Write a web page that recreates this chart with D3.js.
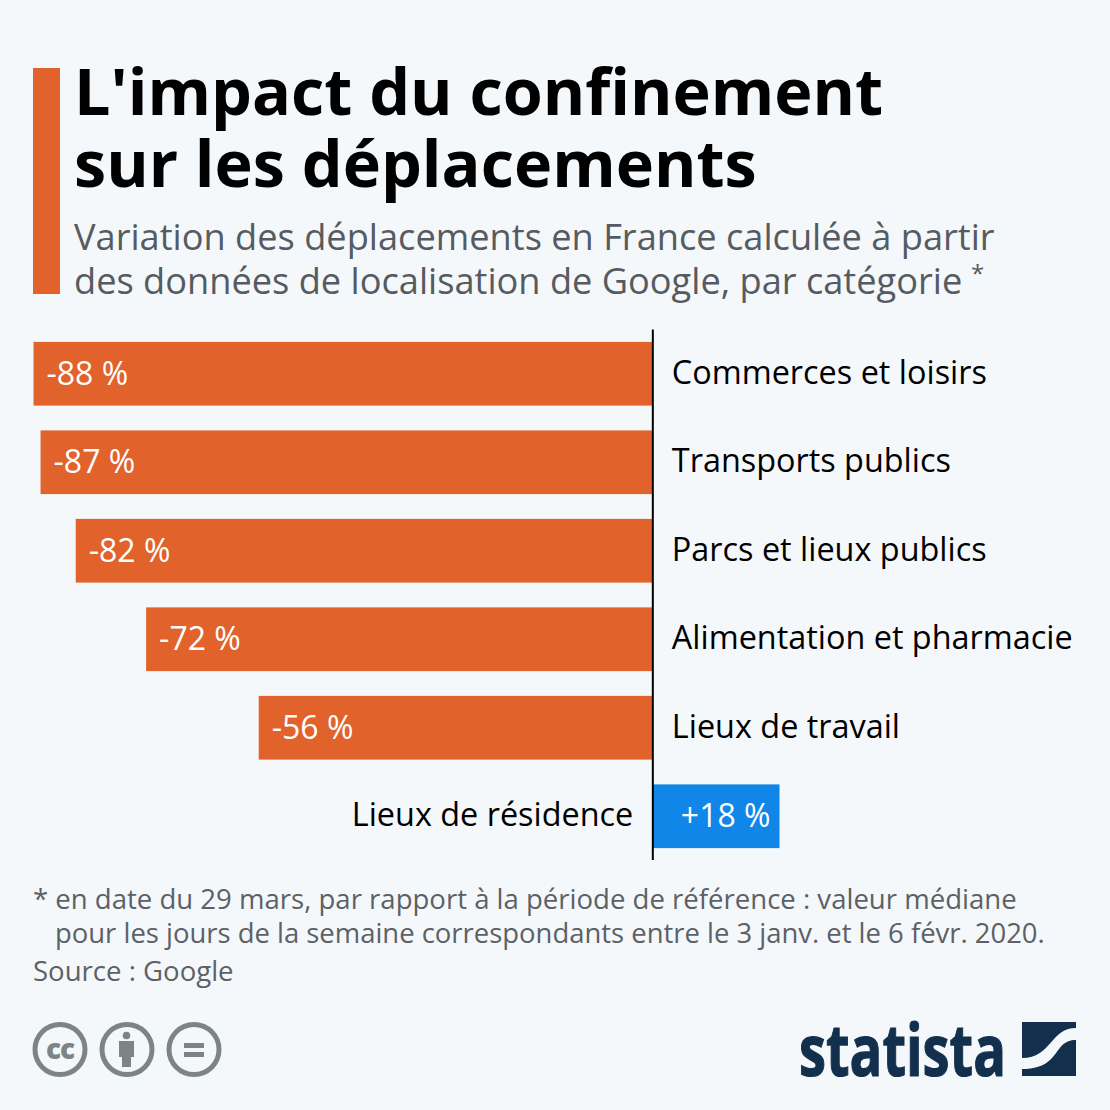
<!DOCTYPE html>
<html><head><meta charset="utf-8">
<script src="https://cdn.jsdelivr.net/npm/d3@7"></script>
<style>html,body{margin:0;padding:0;background:#f5f8fb}svg{display:block}text{font-family:"Open Sans",sans-serif}</style>
</head><body><svg id="c" width="1110" height="1110"></svg>
<script>
const categories=["Commerces et loisirs","Transports publics","Parcs et lieux publics","Alimentation et pharmacie","Lieux de travail","Lieux de résidence"];
const values=[-88,-87,-82,-72,-56,18];
const valueLabels=["-88 %","-87 %","-82 %","-72 %","-56 %","+18 %"];
const titleLines=["L'impact du confinement","sur les déplacements"];
const subtitleLines=["Variation des déplacements en France calculée à partir","des données de localisation de Google, par catégorie"];
const svg=d3.select("#c");
const W=1110, ink="#12304d", grey="#7c8583", bg="#f5f8fb";
svg.append("rect").attr("width",W).attr("height",W).attr("fill",bg);
svg.append("rect").attr("x",33).attr("y",68).attr("width",27).attr("height",226).attr("fill","#e2622b");
titleLines.forEach((t,i)=>svg.append("text").attr("x",74).attr("y",115+i*71.5).attr("font-size",64.7).attr("font-weight",700).attr("fill","#000").text(t));
subtitleLines.forEach((t,i)=>svg.append("text").attr("x",74).attr("y",250+i*44).attr("font-size",36.2).attr("fill","#555b60").text(t));
svg.append("text").attr("x",971).attr("y",282).attr("font-size",24).attr("fill","#555b60").text("*");
const x=d3.scaleLinear().domain([-88,18]).range([33.5,779.5]);
const y=d3.scaleBand().domain(categories).range([329.5,860.5]).paddingInner(0.28).paddingOuter(0.14);
const g=svg.append("g");
g.selectAll("rect").data(categories).join("rect")
 .attr("x",(d,i)=>x(Math.min(0,values[i]))).attr("y",d=>y(d))
 .attr("width",(d,i)=>Math.abs(x(values[i])-x(0))).attr("height",y.bandwidth())
 .attr("fill",(d,i)=>values[i]<0?"#e2622b":"#0f86e8");
g.selectAll("text.v").data(categories).join("text").attr("class","v")
 .attr("x",(d,i)=>values[i]<0?x(values[i])+13:x(values[i])-9)
 .attr("y",d=>y(d)+y.bandwidth()/2+11).attr("text-anchor",(d,i)=>values[i]<0?"start":"end")
 .attr("font-size",32).attr("fill","#fff").text((d,i)=>valueLabels[i]);
g.selectAll("text.c").data(categories).join("text").attr("class","c")
 .attr("x",(d,i)=>values[i]<0?x(0)+19:x(0)-19.5)
 .attr("y",d=>y(d)+y.bandwidth()/2+10).attr("text-anchor",(d,i)=>values[i]<0?"start":"end")
 .attr("font-size",32.4).attr("fill","#000").text(d=>d);
svg.append("line").attr("x1",x(0)).attr("x2",x(0)).attr("y1",329.5).attr("y2",860).attr("stroke","#000").attr("stroke-width",2);
const foot=[["* en date du 29 mars, par rapport à la période de référence : valeur médiane",33,909,27.55],["pour les jours de la semaine correspondants entre le 3 janv. et le 6 févr. 2020.",55,943,27.44],["Source : Google",33,981,27.55]];
foot.forEach(f=>svg.append("text").attr("x",f[1]).attr("y",f[2]).attr("font-size",f[3]).attr("fill","#5b6166").text(f[0]));
// licence icons
const ic=svg.append("g").attr("fill","none").attr("stroke",grey).attr("stroke-width",5);
[60,127,194].forEach(cx=>ic.append("circle").attr("cx",cx).attr("cy",1049.5).attr("r",25));
svg.append("text").attr("x",60).attr("y",1059).attr("text-anchor","middle").attr("font-size",28).attr("font-weight",800).attr("letter-spacing",-1).attr("fill",grey).text("cc");
svg.append("circle").attr("cx",126.5).attr("cy",1035.5).attr("r",3.8).attr("fill",grey);
svg.append("rect").attr("x",119).attr("y",1041).attr("width",15).attr("height",16).attr("fill",grey);
svg.append("rect").attr("x",122).attr("y",1056).attr("width",9).attr("height",11).attr("fill",grey);
svg.append("rect").attr("x",184).attr("y",1043).attr("width",20).attr("height",5).attr("fill",grey);
svg.append("rect").attr("x",184).attr("y",1052).attr("width",20).attr("height",5).attr("fill",grey);
// logo
svg.append("text").attr("x",799).attr("y",1076).attr("font-size",72).attr("font-weight",700).attr("fill",ink).attr("stroke",ink).attr("stroke-width",1.2).attr("font-family","'Liberation Sans Narrow',Roboto,sans-serif").attr("textLength",207).attr("lengthAdjust","spacingAndGlyphs").text("statista");
svg.append("path").attr("d","M1022 1022 H1076 V1028 C1050 1028 1052 1058 1022 1058 Z").attr("fill",ink);
svg.append("path").attr("d","M1076 1040 V1076 H1022 V1069 C1062 1069 1052 1040 1076 1040 Z").attr("fill",ink);
</script></body></html>
